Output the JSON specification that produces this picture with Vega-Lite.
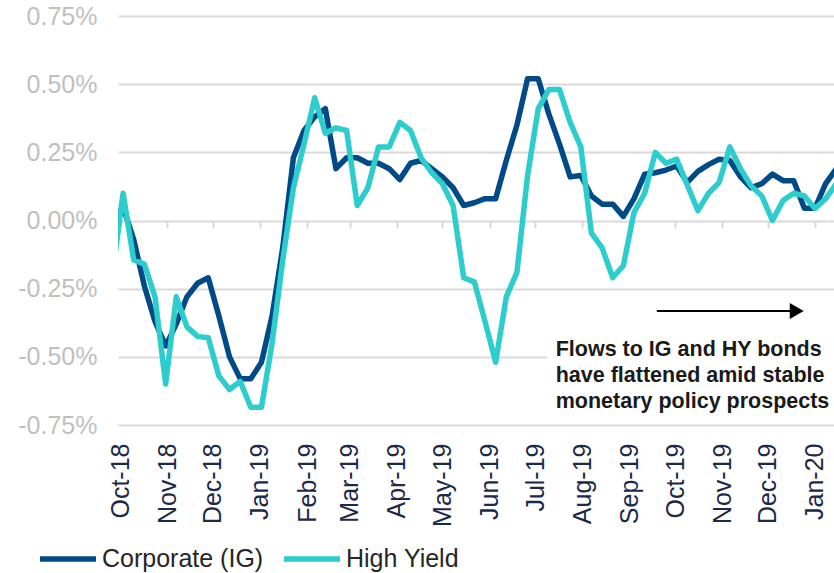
{
  "$schema": "https://vega.github.io/schema/vega-lite/v6.json",
  "width": 716,
  "height": 409,
  "autosize": {"type": "none"},
  "padding": {"left": 118, "top": 16, "right": 0, "bottom": 148},
  "background": "white",
  "config": {"font": "Liberation Sans", "view": {"stroke": null}},
  "datasets": {
    "flows": [
      {"date":"2018-09-26","series":"Corporate (IG)","value":0.0},
      {"date":"2018-10-03","series":"Corporate (IG)","value":0.05},
      {"date":"2018-10-10","series":"Corporate (IG)","value":-0.07},
      {"date":"2018-10-17","series":"Corporate (IG)","value":-0.24},
      {"date":"2018-10-24","series":"Corporate (IG)","value":-0.37},
      {"date":"2018-10-31","series":"Corporate (IG)","value":-0.46},
      {"date":"2018-11-07","series":"Corporate (IG)","value":-0.38},
      {"date":"2018-11-14","series":"Corporate (IG)","value":-0.28},
      {"date":"2018-11-21","series":"Corporate (IG)","value":-0.23},
      {"date":"2018-11-28","series":"Corporate (IG)","value":-0.21},
      {"date":"2018-12-05","series":"Corporate (IG)","value":-0.35},
      {"date":"2018-12-12","series":"Corporate (IG)","value":-0.5},
      {"date":"2018-12-19","series":"Corporate (IG)","value":-0.58},
      {"date":"2018-12-26","series":"Corporate (IG)","value":-0.58},
      {"date":"2019-01-02","series":"Corporate (IG)","value":-0.52},
      {"date":"2019-01-09","series":"Corporate (IG)","value":-0.35},
      {"date":"2019-01-16","series":"Corporate (IG)","value":-0.1},
      {"date":"2019-01-23","series":"Corporate (IG)","value":0.23},
      {"date":"2019-01-30","series":"Corporate (IG)","value":0.33},
      {"date":"2019-02-06","series":"Corporate (IG)","value":0.38},
      {"date":"2019-02-13","series":"Corporate (IG)","value":0.41},
      {"date":"2019-02-20","series":"Corporate (IG)","value":0.19},
      {"date":"2019-02-27","series":"Corporate (IG)","value":0.23},
      {"date":"2019-03-06","series":"Corporate (IG)","value":0.23},
      {"date":"2019-03-13","series":"Corporate (IG)","value":0.21},
      {"date":"2019-03-20","series":"Corporate (IG)","value":0.21},
      {"date":"2019-03-27","series":"Corporate (IG)","value":0.19},
      {"date":"2019-04-03","series":"Corporate (IG)","value":0.15},
      {"date":"2019-04-10","series":"Corporate (IG)","value":0.21},
      {"date":"2019-04-17","series":"Corporate (IG)","value":0.22},
      {"date":"2019-04-24","series":"Corporate (IG)","value":0.19},
      {"date":"2019-05-01","series":"Corporate (IG)","value":0.16},
      {"date":"2019-05-08","series":"Corporate (IG)","value":0.12},
      {"date":"2019-05-15","series":"Corporate (IG)","value":0.055},
      {"date":"2019-05-22","series":"Corporate (IG)","value":0.065},
      {"date":"2019-05-29","series":"Corporate (IG)","value":0.08},
      {"date":"2019-06-05","series":"Corporate (IG)","value":0.08},
      {"date":"2019-06-12","series":"Corporate (IG)","value":0.22},
      {"date":"2019-06-19","series":"Corporate (IG)","value":0.35},
      {"date":"2019-06-26","series":"Corporate (IG)","value":0.52},
      {"date":"2019-07-03","series":"Corporate (IG)","value":0.52},
      {"date":"2019-07-10","series":"Corporate (IG)","value":0.39},
      {"date":"2019-07-17","series":"Corporate (IG)","value":0.28},
      {"date":"2019-07-24","series":"Corporate (IG)","value":0.16},
      {"date":"2019-07-31","series":"Corporate (IG)","value":0.165},
      {"date":"2019-08-07","series":"Corporate (IG)","value":0.09},
      {"date":"2019-08-14","series":"Corporate (IG)","value":0.06},
      {"date":"2019-08-21","series":"Corporate (IG)","value":0.06},
      {"date":"2019-08-28","series":"Corporate (IG)","value":0.015},
      {"date":"2019-09-04","series":"Corporate (IG)","value":0.08},
      {"date":"2019-09-11","series":"Corporate (IG)","value":0.17},
      {"date":"2019-09-18","series":"Corporate (IG)","value":0.175},
      {"date":"2019-09-25","series":"Corporate (IG)","value":0.185},
      {"date":"2019-10-02","series":"Corporate (IG)","value":0.2},
      {"date":"2019-10-09","series":"Corporate (IG)","value":0.14},
      {"date":"2019-10-16","series":"Corporate (IG)","value":0.18},
      {"date":"2019-10-23","series":"Corporate (IG)","value":0.205},
      {"date":"2019-10-30","series":"Corporate (IG)","value":0.225},
      {"date":"2019-11-06","series":"Corporate (IG)","value":0.22},
      {"date":"2019-11-13","series":"Corporate (IG)","value":0.16},
      {"date":"2019-11-20","series":"Corporate (IG)","value":0.12},
      {"date":"2019-11-27","series":"Corporate (IG)","value":0.135},
      {"date":"2019-12-04","series":"Corporate (IG)","value":0.17},
      {"date":"2019-12-11","series":"Corporate (IG)","value":0.146},
      {"date":"2019-12-18","series":"Corporate (IG)","value":0.146},
      {"date":"2019-12-25","series":"Corporate (IG)","value":0.045},
      {"date":"2020-01-01","series":"Corporate (IG)","value":0.045},
      {"date":"2020-01-08","series":"Corporate (IG)","value":0.135},
      {"date":"2020-01-15","series":"Corporate (IG)","value":0.19},
      {"date":"2018-09-26","series":"High Yield","value":-0.2},
      {"date":"2018-10-03","series":"High Yield","value":0.1},
      {"date":"2018-10-10","series":"High Yield","value":-0.145},
      {"date":"2018-10-17","series":"High Yield","value":-0.16},
      {"date":"2018-10-24","series":"High Yield","value":-0.28},
      {"date":"2018-10-31","series":"High Yield","value":-0.6},
      {"date":"2018-11-07","series":"High Yield","value":-0.28},
      {"date":"2018-11-14","series":"High Yield","value":-0.39},
      {"date":"2018-11-21","series":"High Yield","value":-0.425},
      {"date":"2018-11-28","series":"High Yield","value":-0.43},
      {"date":"2018-12-05","series":"High Yield","value":-0.57},
      {"date":"2018-12-12","series":"High Yield","value":-0.62},
      {"date":"2018-12-19","series":"High Yield","value":-0.59},
      {"date":"2018-12-26","series":"High Yield","value":-0.685},
      {"date":"2019-01-02","series":"High Yield","value":-0.685},
      {"date":"2019-01-09","series":"High Yield","value":-0.45},
      {"date":"2019-01-16","series":"High Yield","value":-0.145},
      {"date":"2019-01-23","series":"High Yield","value":0.12},
      {"date":"2019-01-30","series":"High Yield","value":0.28},
      {"date":"2019-02-06","series":"High Yield","value":0.45},
      {"date":"2019-02-13","series":"High Yield","value":0.32},
      {"date":"2019-02-20","series":"High Yield","value":0.34},
      {"date":"2019-02-27","series":"High Yield","value":0.33},
      {"date":"2019-03-06","series":"High Yield","value":0.055},
      {"date":"2019-03-13","series":"High Yield","value":0.12},
      {"date":"2019-03-20","series":"High Yield","value":0.27},
      {"date":"2019-03-27","series":"High Yield","value":0.27},
      {"date":"2019-04-03","series":"High Yield","value":0.36},
      {"date":"2019-04-10","series":"High Yield","value":0.33},
      {"date":"2019-04-17","series":"High Yield","value":0.23},
      {"date":"2019-04-24","series":"High Yield","value":0.175},
      {"date":"2019-05-01","series":"High Yield","value":0.135},
      {"date":"2019-05-08","series":"High Yield","value":0.055},
      {"date":"2019-05-15","series":"High Yield","value":-0.21},
      {"date":"2019-05-22","series":"High Yield","value":-0.225},
      {"date":"2019-05-29","series":"High Yield","value":-0.37},
      {"date":"2019-06-05","series":"High Yield","value":-0.52},
      {"date":"2019-06-12","series":"High Yield","value":-0.28},
      {"date":"2019-06-19","series":"High Yield","value":-0.19},
      {"date":"2019-06-26","series":"High Yield","value":0.165},
      {"date":"2019-07-03","series":"High Yield","value":0.41},
      {"date":"2019-07-10","series":"High Yield","value":0.48},
      {"date":"2019-07-17","series":"High Yield","value":0.48},
      {"date":"2019-07-24","series":"High Yield","value":0.36},
      {"date":"2019-07-31","series":"High Yield","value":0.27},
      {"date":"2019-08-07","series":"High Yield","value":-0.046},
      {"date":"2019-08-14","series":"High Yield","value":-0.1},
      {"date":"2019-08-21","series":"High Yield","value":-0.21},
      {"date":"2019-08-28","series":"High Yield","value":-0.165},
      {"date":"2019-09-04","series":"High Yield","value":0.03},
      {"date":"2019-09-11","series":"High Yield","value":0.1},
      {"date":"2019-09-18","series":"High Yield","value":0.25},
      {"date":"2019-09-25","series":"High Yield","value":0.21},
      {"date":"2019-10-02","series":"High Yield","value":0.225},
      {"date":"2019-10-09","series":"High Yield","value":0.13},
      {"date":"2019-10-16","series":"High Yield","value":0.036},
      {"date":"2019-10-23","series":"High Yield","value":0.1},
      {"date":"2019-10-30","series":"High Yield","value":0.14},
      {"date":"2019-11-06","series":"High Yield","value":0.27},
      {"date":"2019-11-13","series":"High Yield","value":0.19},
      {"date":"2019-11-20","series":"High Yield","value":0.127},
      {"date":"2019-11-27","series":"High Yield","value":0.09},
      {"date":"2019-12-04","series":"High Yield","value":0.0},
      {"date":"2019-12-11","series":"High Yield","value":0.073},
      {"date":"2019-12-18","series":"High Yield","value":0.1},
      {"date":"2019-12-25","series":"High Yield","value":0.09},
      {"date":"2020-01-01","series":"High Yield","value":0.044},
      {"date":"2020-01-08","series":"High Yield","value":0.08},
      {"date":"2020-01-15","series":"High Yield","value":0.135}
    ],
    "mask": [{"start":"2019-07-09","end":"2020-01-20","y1":-0.4,"y2":-0.7}],
    "arrow": [{"start":"2019-09-19","end":"2019-12-17","y":-0.332}],
    "head": [{"date":"2019-12-20","y":-0.332}],
    "note": [{"date":"2019-07-14T12:00:00","y":-0.434,"text":["Flows to IG and HY bonds","have flattened amid stable","monetary policy prospects"]}]
  },
  "resolve": {"axis": {"x": "independent"}},
  "layer": [
    {
      "data": {"name": "flows"},
      "mark": {"type": "line", "strokeWidth": 5.5, "strokeJoin": "round", "clip": true},
      "encoding": {
        "x": {
          "field": "date", "type": "temporal",
          "scale": {"type": "utc", "domain": [{"year": 2018, "month": "sep", "date": 29, "hours": 16, "utc": true}, {"year": 2020, "month": "jan", "date": 13, "hours": 12, "utc": true}]},
          "axis": {
            "orient": "bottom", "title": null, "domain": false, "ticks": false, "grid": false,
            "tickCount": {"interval": "month", "step": 1},
            "labelExpr": "utcFormat(datum.value, '%b-%y')",
            "labelAngle": 270, "labelAlign": "right", "labelBaseline": "middle",
            "labelPadding": 18, "labelFontSize": 25, "labelColor": "#1c2a48",
            "labelOverlap": false, "labelFlush": false, "labelBound": false
          }
        },
        "y": {
          "field": "value", "type": "quantitative",
          "scale": {"domain": [-0.75, 0.75], "nice": false, "zero": false},
          "axis": {
            "title": null, "domain": false, "ticks": false, "grid": true,
            "gridColor": "#D9D9D9", "gridWidth": 2,
            "values": [-0.75, -0.5, -0.25, 0, 0.25, 0.5, 0.75],
            "labelExpr": "(datum.value < 0 ? '-' : '') + format(abs(datum.value), '.2f') + '%'",
            "labelFontSize": 25, "labelColor": "#BFBFBF", "labelPadding": 21
          }
        },
        "color": {
          "field": "series", "type": "nominal",
          "scale": {"domain": ["Corporate (IG)", "High Yield"], "range": ["#004A87", "#2ECDCD"]},
          "legend": {
            "orient": "none", "legendX": -81, "legendY": 512, "direction": "horizontal",
            "title": null, "symbolType": "stroke", "symbolSize": 3136, "symbolStrokeWidth": 5.5,
            "labelFontSize": 25, "labelColor": "#262626", "labelOffset": 3,
            "columnPadding": 9, "padding": 0, "labelLimit": 0
          }
        }
      }
    },
    {
      "data": {"name": "mask"},
      "mark": {"type": "rect", "color": "white", "clip": true},
      "encoding": {
        "x": {
          "field": "start", "type": "temporal",
          "scale": {"type": "utc", "domain": [{"year": 2018, "month": "sep", "date": 29, "hours": 16, "utc": true}, {"year": 2020, "month": "jan", "date": 13, "hours": 12, "utc": true}]},
          "axis": {
            "orient": "bottom", "offset": -205, "title": null, "labels": false, "domain": false, "grid": false,
            "ticks": true, "tickSize": 8, "tickWidth": 2, "tickColor": "#D9D9D9",
            "tickCount": {"interval": "month", "step": 1}
          }
        },
        "x2": {"field": "end"},
        "y": {"field": "y1", "type": "quantitative"},
        "y2": {"field": "y2"}
      }
    },
    {
      "data": {"name": "arrow"},
      "mark": {"type": "rule", "color": "#000000", "strokeWidth": 2},
      "encoding": {
        "x": {"field": "start", "type": "temporal", "axis": null},
        "x2": {"field": "end"},
        "y": {"field": "y", "type": "quantitative"}
      }
    },
    {
      "data": {"name": "head"},
      "mark": {"type": "point", "shape": "triangle-right", "filled": true, "color": "#000000", "size": 260, "opacity": 1},
      "encoding": {
        "x": {"field": "date", "type": "temporal", "axis": null},
        "y": {"field": "y", "type": "quantitative"}
      }
    },
    {
      "data": {"name": "note"},
      "mark": {"type": "text", "align": "left", "baseline": "top", "fontSize": 21.5, "fontWeight": "bold", "lineHeight": 26, "color": "#1a1a1a"},
      "encoding": {
        "x": {"field": "date", "type": "temporal", "axis": null},
        "y": {"field": "y", "type": "quantitative"},
        "text": {"field": "text"}
      }
    }
  ]
}
